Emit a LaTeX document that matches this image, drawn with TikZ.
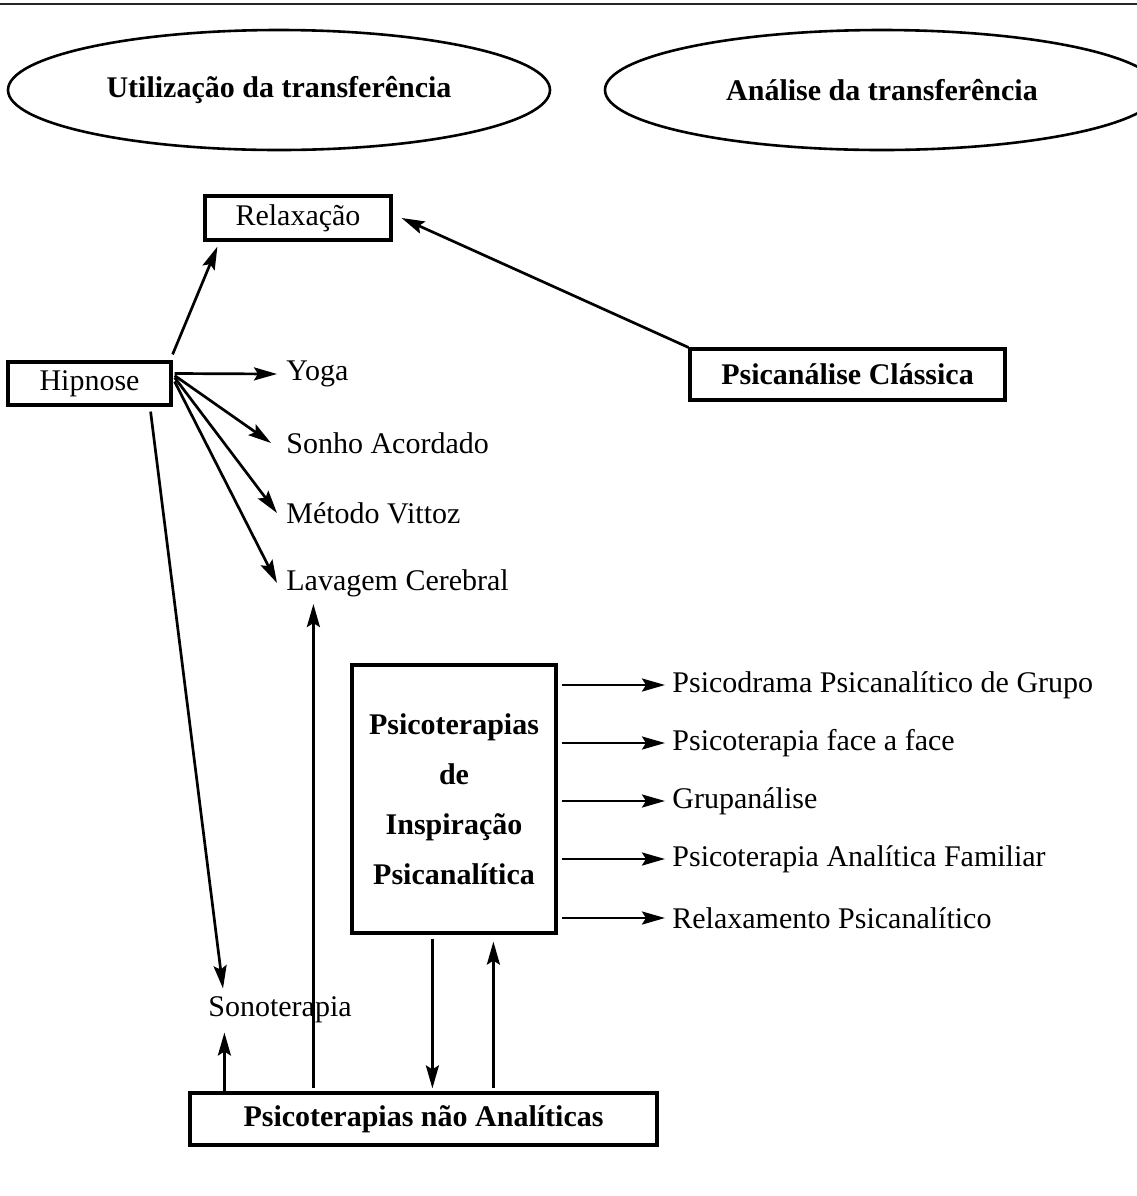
\documentclass[tikz,border=0pt]{standalone}
\usepackage{fontspec}
\setmainfont{Liberation Serif}
\usetikzlibrary{shapes.geometric,arrows.meta}

\begin{document}
\begin{tikzpicture}[x=0.5pt, y=-0.5pt,
    every node/.style={font=\fontsize{15}{18}\selectfont, inner sep=0pt},
    box/.style={draw, line width=1.6pt, rectangle},
    oval/.style={draw, line width=1.3pt, ellipse, minimum width=271pt, minimum height=60pt, font=\fontsize{15}{18}\selectfont\bfseries},
    lbl/.style={anchor=west},
    arr/.style={-{Stealth[length=11.5pt, width=6.5pt, inset=2pt]}, line width=1.35pt}]
    \useasboundingbox (0,0) rectangle (1137,1196);

    % Top rule
    \draw[line width=1pt, black!85] (0,4) -- (1137,4);

    % Ellipses
    \node[oval] (util) at (279,90) {Utilização da transferência};
    \node[oval, minimum width=277pt] (anal) at (882,90) {Análise da transferência};

    % Boxes
    \node[box, minimum width=93pt, minimum height=22pt] (rel) at (298,218) {Relaxação};
    \node[box, minimum width=81.5pt, minimum height=21.5pt] (hip) at (89.5,383.5) {Hipnose};
    \node[box, minimum width=157.5pt, minimum height=25.5pt, font=\fontsize{15}{18}\selectfont\bfseries] (pc) at (847.5,374.5) {Psicanálise Clássica};
    \node[box, minimum width=102pt, minimum height=134pt, align=center, font=\fontsize{15}{25}\selectfont\bfseries] (pip) at (454,799) {Psicoterapias\\de\\Inspiração\\Psicanalítica};
    \node[box, minimum width=233.5pt, minimum height=26pt, font=\fontsize{15}{18}\selectfont\bfseries] (pna) at (423.5,1119) {Psicoterapias não Analíticas};

    % Hipnose labels
    \node[lbl] (yoga) at (286,374) {Yoga};
    \node[lbl] (sonho) at (286,443) {Sonho Acordado};
    \node[lbl] (metodo) at (286,513) {Método Vittoz};
    \node[lbl] (lav) at (286,583) {Lavagem Cerebral};
    \node[lbl] (sono) at (208,1010) {Sonoterapia};

    % Arrows from Hipnose
    \draw[arr] ([yshift=3pt]hip.north east) -- ([xshift=7pt,yshift=-2.5pt]rel.south west);
    \draw[arr] (pc.north west) -- ([xshift=4.5pt]rel.east);
    \draw[arr] ([xshift=1pt,yshift=5pt]hip.east) -- ([xshift=-4.5pt]yoga.west);
    \draw[arr] ([xshift=1pt,yshift=4pt]hip.east) -- ([xshift=-7.5pt]sonho.west);
    \draw[arr] ([xshift=1pt,yshift=3pt]hip.east) -- ([xshift=-4.5pt]metodo.west);
    \draw[arr] ([xshift=1pt,yshift=1pt]hip.east) -- ([xshift=-4.5pt]lav.west);
    \draw[arr] ([xshift=-11pt,yshift=-2.5pt]hip.south east) -- ([xshift=7.5pt,yshift=4pt]sono.north west);

    % Arrows from Psicoterapias nao Analiticas
    \coordinate (s1) at ([xshift=18pt]pna.north west);
    \coordinate (l1) at ([xshift=62.5pt]pna.north west);
    \draw[arr, shorten >=4.5pt] (s1) -- (s1 |- sono.south);
    \draw[arr, shorten >=3.5pt] ([yshift=1.5pt]l1) -- (l1 |- lav.south);

    % Between the two groups
    \coordinate (d1) at ([xshift=41pt]pip.south west);
    \coordinate (u1) at ([xshift=71.5pt]pip.south west);
    \draw[arr, shorten <=2pt, shorten >=1.5pt] (d1) -- (d1 |- pna.north);
    \draw[arr, shorten <=1.5pt, shorten >=3.5pt] (u1 |- pna.north) -- (u1);

    % Psicoterapias de Inspiracao Psicanalitica
    \foreach \i/\y/\txt in {1/685/Psicodrama Psicanalítico de Grupo, 2/743/Psicoterapia face a face,
        3/801/Grupanálise, 4/859/Psicoterapia Analítica Familiar, 5/918/Relaxamento Psicanalítico} {
        \node[lbl] (out\i) at (672,\y) {\txt};
        \draw[arr, shorten <=2pt] (pip.east |- out\i.west) -- ([xshift=-3.5pt]out\i.west);
    }
\end{tikzpicture}
\end{document}
